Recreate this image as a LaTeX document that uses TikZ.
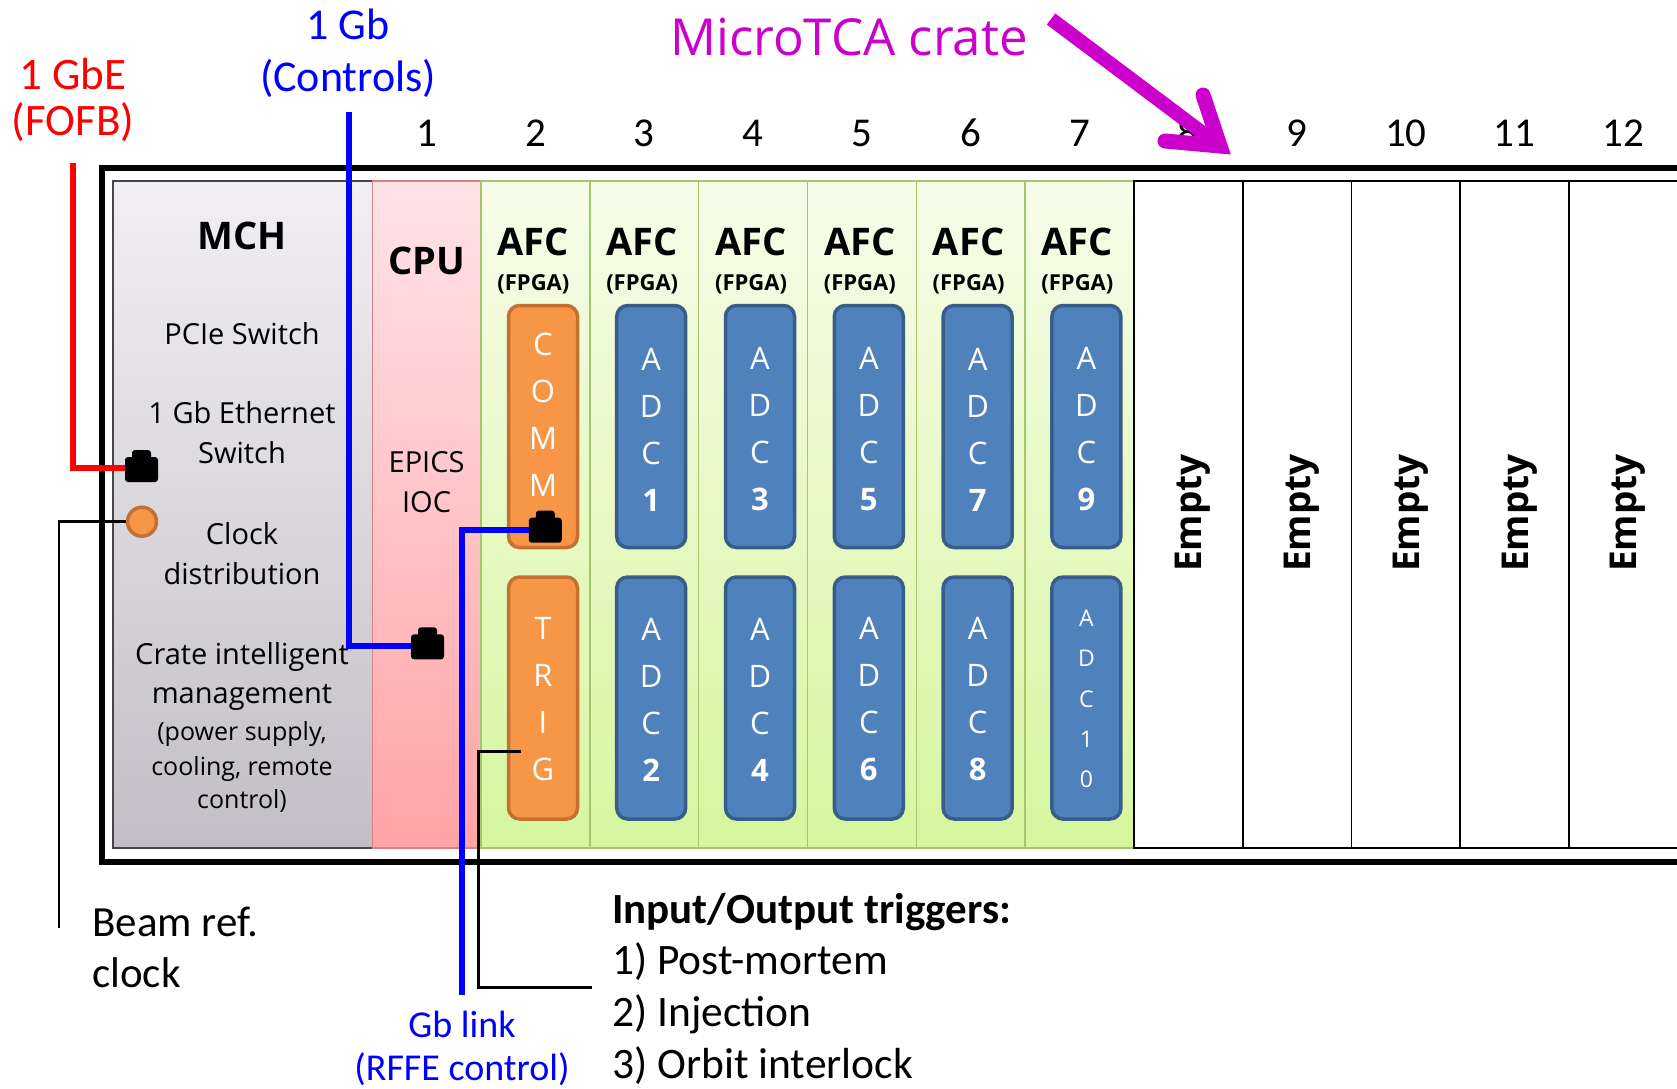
\documentclass[tikz,border=0pt]{standalone}
\usepackage{fontspec}
\setmainfont{Open Sans}
\newfontfamily\calibfont{Carlito}
\usetikzlibrary{calc}

\definecolor{mchtop}{RGB}{241,239,244}
\definecolor{mchbot}{RGB}{194,190,197}
\definecolor{mchline}{RGB}{70,70,70}
\definecolor{cputop}{RGB}{255,227,231}
\definecolor{cpubot}{RGB}{255,164,167}
\definecolor{cpuline}{RGB}{214,130,132}
\definecolor{afctop}{RGB}{247,252,234}
\definecolor{afcbot}{RGB}{214,246,158}
\definecolor{afcline}{RGB}{165,198,108}
\definecolor{adcfill}{RGB}{79,129,189}
\definecolor{adcline}{RGB}{56,93,138}
\definecolor{trigfill}{RGB}{247,150,70}
\definecolor{trigline}{RGB}{196,112,48}
\definecolor{cratemag}{RGB}{204,0,204}
\definecolor{wirered}{RGB}{255,0,0}
\definecolor{wireblue}{RGB}{0,0,255}

\begin{document}
\begin{tikzpicture}[x=1pt,y=-1pt,
  slotbase/.style={rectangle, inner sep=0pt, outer sep=0pt, minimum height=667pt},
  mchslot/.style={slotbase, minimum width=260pt, top color=mchtop, bottom color=mchbot, draw=mchline, line width=1.6pt},
  cpuslot/.style={slotbase, minimum width=108.8pt, top color=cputop, bottom color=cpubot, draw=cpuline, line width=1.4pt},
  afcslot/.style={slotbase, minimum width=108.8pt, top color=afctop, bottom color=afcbot, draw=afcline, line width=1.4pt},
  emptyslot/.style={slotbase, minimum width=108.8pt, fill=white, draw=black, line width=1.8pt},
  modbox/.style={rectangle, rounded corners=11pt, minimum width=69pt, minimum height=242pt, inner sep=0pt, line width=3.5pt},
  adcbox/.style={modbox, fill=adcfill, draw=adcline},
  orgbox/.style={modbox, fill=trigfill, draw=trigline},
  boxletters/.style={font=\fontsize{31}{47}\selectfont, text=white, align=center, inner sep=0pt},
  smallletters/.style={font=\fontsize{23}{40.3}\selectfont, text=white, align=center, inner sep=0pt},
  headtext/.style={font=\bfseries\fontsize{38}{44}\selectfont, anchor=base, inner sep=0pt},
  fpgatext/.style={font=\bfseries\fontsize{22}{26}\selectfont, anchor=base, inner sep=0pt},
  bodytext/.style={font=\fontsize{29}{39}\selectfont, anchor=base, inner sep=0pt},
  smalltext/.style={font=\fontsize{25}{35}\selectfont, anchor=base, inner sep=0pt},
  emptytext/.style={font=\bfseries\fontsize{37}{44}\selectfont, anchor=base, rotate=90, inner sep=0pt},
  slotnum/.style={font=\calibfont\fontsize{41}{48}\selectfont, anchor=base, inner sep=0pt},
  notetext/.style={font=\calibfont\fontsize{43}{50}\selectfont, anchor=base west, inner sep=0pt},
  fofbtext/.style={font=\calibfont\fontsize{45}{50}\selectfont, text=wirered, anchor=base, inner sep=0pt},
  ctrltext/.style={font=\calibfont\fontsize{44}{48}\selectfont, text=wireblue, anchor=base, inner sep=0pt},
  rffetext/.style={font=\calibfont\fontsize{38}{44}\selectfont, text=wireblue, anchor=base, inner sep=0pt},
  jack/.style={rectangle, minimum width=33pt, minimum height=32pt, inner sep=0pt, outer sep=0pt,
    path picture={
      \fill[black, rounded corners=3pt]
        ($(path picture bounding box.north west)+(0,7)$) rectangle (path picture bounding box.south east);
      \fill[black, rounded corners=3pt]
        ($(path picture bounding box.north west)+(7,0)$) rectangle ($(path picture bounding box.north east)+(-7,12)$);
    }},
  redwire/.style={draw=wirered, line width=6pt},
  bluewire/.style={draw=wireblue, line width=6pt},
  thinwire/.style={draw=black, line width=2.5pt},
  trigwire/.style={draw=black, line width=3pt},
  cratearrow/.style={draw=cratemag, line width=14pt}
]

% page
\fill[white] (0,0) rectangle (1677,1088);
\useasboundingbox (0,0) rectangle (1677,1088);

% slot cards
\node[mchslot] (mch) at (243,514.5) {};
\node[cpuslot] (slot1) at (426.6,514.5) {};
\foreach \k in {2,...,7}
  \node[afcslot] (slot\k) at ({426.6+(\k-1)*108.8},514.5) {};
\foreach \k in {8,...,11}
  \node[emptyslot] (slot\k) at ({426.6+(\k-1)*108.8},514.5) {};
\node[emptyslot, minimum width=130pt] (slot12) at (1634,514.5) {};

% crate frame, open on the right
\coordinate (frameTR) at (1690,168);
\coordinate (frameBL) at (102,862);
\coordinate (frameBR) at (1690,862);
\draw[line width=5.5pt, line join=miter] (frameTR) -| (frameBL) -- (frameBR);

% slot numbers
\foreach \k in {1,...,12}
  \node[slotnum] (num\k) at ({426.6+(\k-1)*108.8},146.5) {\k};

% MCH texts
\node[headtext] (mchName) at (242,249.5) {MCH};
\node[bodytext] (mchPcie) at (242,344) {PCIe Switch};
\node[bodytext] (mchEthA) at (242,423.5) {1 Gb Ethernet};
\node[bodytext] (mchEthB) at (242,463) {Switch};
\node[bodytext] (mchClkA) at (242,544.5) {Clock};
\node[bodytext] (mchClkB) at (242,584) {distribution};
\node[bodytext] (mchMgmtA) at (242,664.5) {Crate intelligent};
\node[bodytext] (mchMgmtB) at (242,703.5) {management};
\node[smalltext] (mchMgmtC) at (242,740) {(power supply,};
\node[smalltext] (mchMgmtD) at (242,775) {cooling, remote};
\node[smalltext] (mchMgmtE) at (242,808.5) {control)};

% CPU texts
\node[headtext] (cpuName) at (426.6,274) {CPU};
\node[bodytext] (cpuEpicsA) at (426.6,472.5) {EPICS};
\node[bodytext] (cpuEpicsB) at (426.6,512.5) {IOC};

% AFC headings
\foreach \k in {2,...,7} {
  \node[headtext] (afc\k) at ({424.6+(\k-1)*108.8},255) {AFC};
  \node[fpgatext] (fpga\k) at ({424.6+(\k-1)*108.8},290) {(FPGA)};
}

% Empty labels
\foreach \k in {8,...,12}
  \node[emptytext] (emp\k) at ({440+(\k-1)*108.8},513) {Empty};

% COMM and TRIG modules in slot 2
\node[orgbox] (comm) at (543,426.5) {};
\node[boxletters] (commTxt) at (543,414.5) {C\\O\\M\\M};
\node[orgbox] (trig) at (543,698) {};
\node[boxletters] (trigTxt) at (543,699.5) {T\\R\\I\\G};

% ADC modules
\foreach \k [evaluate=\k as \up using int(2*\k-5)] in {3,...,7} {
  \node[adcbox] (adcU\k) at ({433.6+(\k-1)*108.8},426.5) {};
  \node[boxletters] (adcUt\k) at ({433.6+(\k-1)*108.8},429.5) {A\\D\\C\\\textbf{\up}};
}
\foreach \k [evaluate=\k as \lo using int(2*\k-4)] in {3,...,6} {
  \node[adcbox] (adcL\k) at ({433.6+(\k-1)*108.8},698) {};
  \node[boxletters] (adcLt\k) at ({433.6+(\k-1)*108.8},699.5) {A\\D\\C\\\textbf{\lo}};
}
\node[adcbox] (adcL7) at (1086.4,698) {};
\node[smallletters] (adcLt7) at (1086.4,699.1) {A\\D\\C\\1\\0};

% clock input and network jacks
\node[circle, fill=trigfill, draw=trigline, line width=3.5pt, minimum size=29pt, inner sep=0pt] (clk) at (142,521.7) {};
\coordinate (fofbTop) at (73,163);
\coordinate (beamEnd) at (59,928);
\coordinate (ctrlTop) at (349,112);
\coordinate (rffeBot) at (462,995);
\coordinate (trigTap) at (521,751.5);
\coordinate (trigBend) at (478,987);
\coordinate (trigEnd) at (592,987);

\draw[redwire] (fofbTop) |- ([yshift=-2pt]141.5,466);
\draw[thinwire] (clk.west) -| (beamEnd);
\draw[bluewire] (ctrlTop) |- ([yshift=-3pt]427.5,643.3);
\draw[bluewire] (rffeBot) |- ([yshift=-3pt]545.3,526.7);
\draw[trigwire] (trigTap) -| (trigBend) -- (trigEnd);

\node[jack] (jackF) at (141.5,466) {};
\node[jack] (jackC) at (427.5,643.3) {};
\node[jack] (jackM) at (545.3,526.7) {};

% outside labels
\node[fofbtext] (fofbA) at (73,89) {1 GbE};
\node[fofbtext] (fofbB) at (73,135) {(FOFB)};
\node[ctrltext] (ctrlA) at (348,39.5) {1 Gb};
\node[ctrltext] (ctrlB) at (348,91) {(Controls)};
\node[rffetext] (rffeA) at (462,1037) {Gb link};
\node[rffetext] (rffeB) at (462,1080) {(RFFE control)};
\node[notetext] (beamA) at (92,936.5) {Beam ref.};
\node[notetext] (beamB) at (92,987) {clock};
\node[notetext, font=\calibfont\bfseries\fontsize{43}{50}\selectfont] (trigHead) at (612,923) {Input/Output triggers:};
\node[notetext, font=\calibfont\fontsize{43.5}{50}\selectfont] (trigOne) at (612,974) {1) Post-mortem};
\node[notetext, font=\calibfont\fontsize{43.5}{50}\selectfont] (trigTwo) at (612,1026.5) {2) Injection};
\node[notetext, font=\calibfont\fontsize{43.5}{50}\selectfont] (trigThree) at (612,1078) {3) Orbit interlock};

% crate label and arrow
\node[font=\fontsize{51}{56}\selectfont, text=cratemag, anchor=base, inner sep=0pt] (crateLbl) at (849,55) {MicroTCA crate};
\coordinate (arrTail) at (1051,19);
\coordinate (arrTip) at (1220,146);
\coordinate (arrBarbA) at (1203,95);
\coordinate (arrBarbB) at (1165,141);
\draw[cratearrow] (arrTail) -- (arrTip);
\draw[cratearrow, line width=15pt, line cap=round, line join=miter, miter limit=10] (arrBarbA) -- (arrTip) -- (arrBarbB);

\end{tikzpicture}
\end{document}
